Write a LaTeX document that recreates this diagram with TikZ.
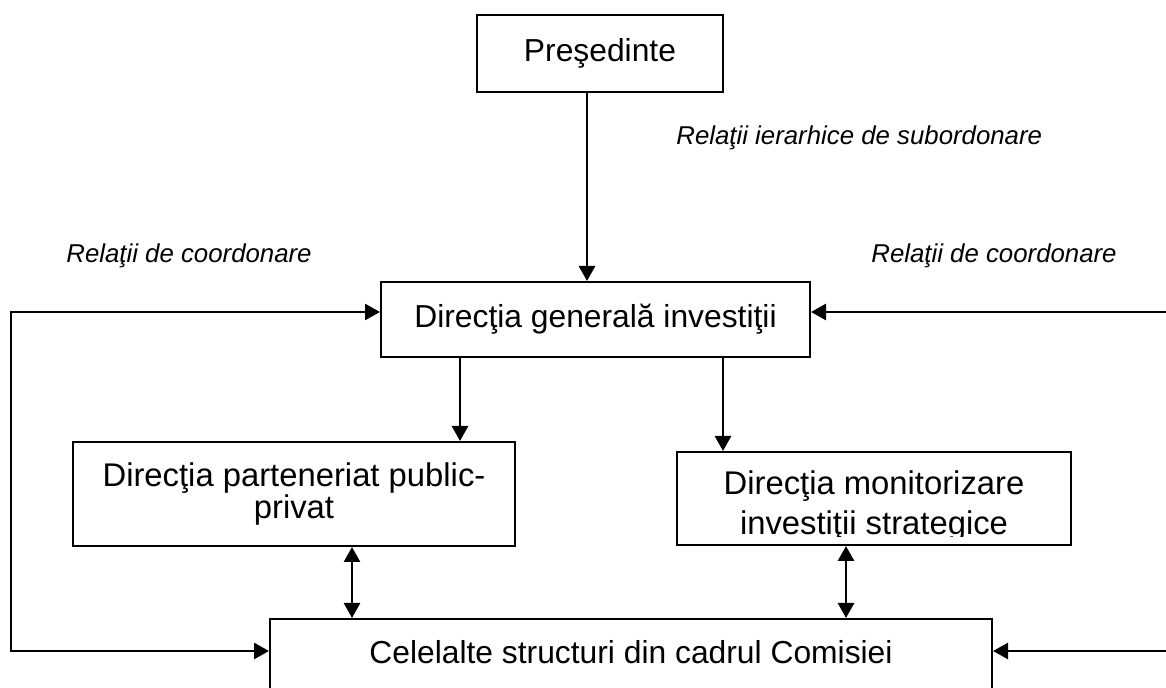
\documentclass[tikz,border=0pt]{standalone}
\usepackage{fontspec}
\setmainfont{Liberation Sans}
\usetikzlibrary{arrows.meta}

\begin{document}
\begin{tikzpicture}[x=0.5pt,y=-0.5pt,
  box/.style={draw,line width=1pt,inner sep=0pt,align=center,
    font=\fontsize{15.9}{19}\selectfont},
  bigbox/.style={box,font=\fontsize{16.4}{16.2}\selectfont},
  arr/.style={line width=1.35pt,-{Triangle[length=7.5pt,width=8pt]}},
  darr/.style={line width=1.35pt,
    {Triangle[length=7.5pt,width=8pt]}-{Triangle[length=7.5pt,width=8pt]}},
  rel/.style={font=\fontsize{12.9}{16}\selectfont\itshape,inner sep=0pt,
    anchor=base west}]
\useasboundingbox (0,0) rectangle (1166,688);

% boxes
\node [box, minimum width=123pt, minimum height=38.5pt]
       (pres) at (600,53.5) {Preşedinte};
\node [box, minimum width=214.5pt, minimum height=37.5pt]
       (gen) at (595.5,319.5) {Direcţia generală investiţii};
\node [bigbox, minimum width=221pt, minimum height=52pt]
       (ppp) at (294,494) {Direcţia parteneriat public-\\privat};
\node [box, minimum width=197pt, minimum height=46.5pt]
       (mon) at (874,498.5) {};
\begin{scope}
\clip (677,452) rectangle (1071,536.5);
\node [font=\fontsize{16.4}{16}\selectfont, anchor=base]
       (monA) at (874,495) {Direcţia monitorizare};
\node [font=\fontsize{16.4}{16}\selectfont, anchor=base]
       (monB) at (874,535) {investiţii strategice};
\end{scope}
\node [box, minimum width=361pt, text height=22pt, text depth=22pt, anchor=north]
       (cel) at (631,618) {Celelalte structuri din cadrul Comisiei};

% labels
\node [rel] (relS) at (676,145) {Relaţii ierarhice de subordonare};
\node [rel] (relL) at (66,263) {Relaţii de coordonare};
\node [rel] (relR) at (871,263) {Relaţii de coordonare};

% points for the connectors
\coordinate (a1) at (587,0);
\coordinate (a2) at (460,0);
\coordinate (a3) at (723,0);
\coordinate (a4) at (352,0);
\coordinate (a5) at (846,0);
\coordinate (h1) at (11,312);
\coordinate (h2) at (11,651);
\coordinate (r1) at (1166,312);
\coordinate (r2) at (1166,651);

% connectors
\draw [arr] (pres.south -| a1) -- (gen.north -| a1);
\draw [arr] (gen.south -| a2) -- (ppp.north -| a2);
\draw [arr] (gen.south -| a3) -- (mon.north -| a3);
\draw [darr] (ppp.south -| a4) -- (cel.north -| a4);
\draw [darr] (mon.south -| a5) -- (cel.north -| a5);
\draw [darr] (gen.west |- h1) -- (h1) -- (h2) -- (cel.west |- h2);
\draw [arr] (r1) -- (gen.east |- r1);
\draw [arr] (r2) -- (cel.east |- r2);
\end{tikzpicture}
\end{document}
